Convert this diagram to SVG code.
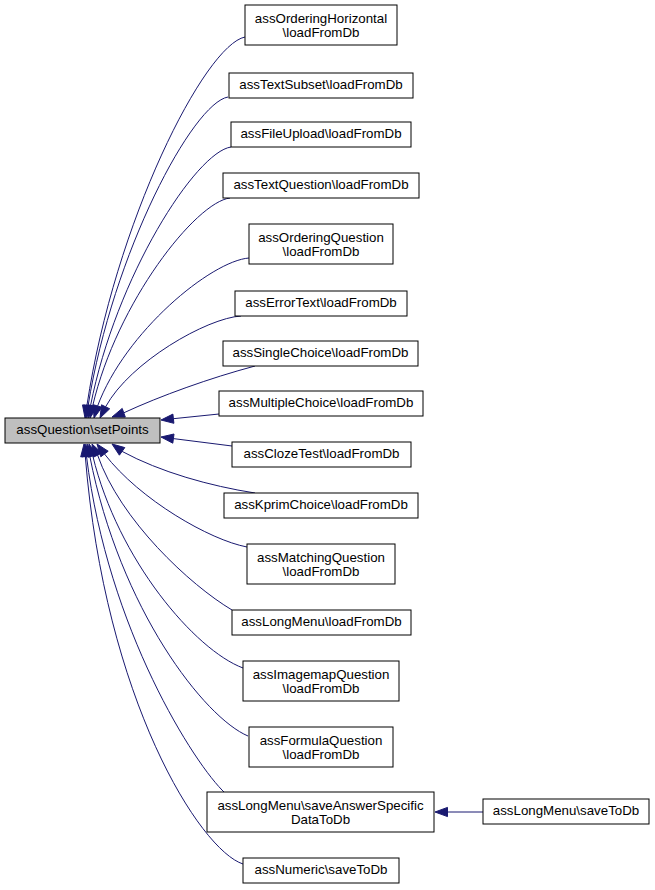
<svg xmlns="http://www.w3.org/2000/svg" width="655" height="890" viewBox="0 0 655 890">
<style>
.n rect{fill:#ffffff;stroke:#000000;stroke-width:1}
.m rect{fill:#bfbfbf;stroke:#000000;stroke-width:1}
text{font-family:"Liberation Sans",Arial,sans-serif;font-size:13.3px;fill:#000000;text-anchor:middle}
.e path{fill:none;stroke:#191970;stroke-width:1}
.e polygon{fill:#191970;stroke:#191970;stroke-width:1}
</style>
<rect x="0" y="0" width="655" height="890" fill="#ffffff"/>
<g class="e" id="connectors">
<path d="M245,37 C205,45 115,221 86.9,405.6"/>
<polygon points="82.5,404.9 85,418 91.3,406.2"/>
<path d="M228,97 C193,103 113,252 88.1,405.7"/>
<polygon points="83.7,404.9 86,418 92.5,406.4"/>
<path d="M231,147 C196,152 116,276 90.5,405.8"/>
<polygon points="86.1,404.9 88,418 94.9,406.7"/>
<path d="M230,198 C196,202 117,302 92.7,405.8"/>
<polygon points="88.3,404.8 90,418 97.1,406.7"/>
<path d="M249,258 C211,261 125,332 97.6,406"/>
<polygon points="93.3,404.7 94,418 101.9,407.3"/>
<path d="M241,316 C207,318 130,362 105.6,406.8"/>
<polygon points="101.5,404.8 100,418 109.7,408.8"/>
<path d="M255,366 C210,378 160,396 123.8,412.8"/>
<polygon points="122.2,408.4 112,417 125.3,417.1"/>
<path d="M219,414 L173.4,418.7"/>
<polygon points="172.9,414.1 161,420 173.9,423.3"/>
<path d="M232,446 L173.4,438.6"/>
<polygon points="174,434 161,437 172.8,443.2"/>
<path d="M255,493 C210,486 160,472 122.1,451.4"/>
<polygon points="124.8,447.6 112,444 119.4,455.2"/>
<path d="M247,547 C210,540 140,500 104.5,454"/>
<polygon points="108.2,451.2 97,444 100.8,456.8"/>
<path d="M232,610 C190,585 120,520 97.6,455.1"/>
<polygon points="101.8,453 92,444 93.4,457.2"/>
<path d="M243,668 C195,650 118,560 92.8,455.9"/>
<polygon points="97.1,454.5 89,444 88.3,457.3"/>
<path d="M248,736 C205,718 120,610 89.8,456.2"/>
<polygon points="94.2,455.2 87,444 85.2,457.2"/>
<path d="M225,793 C195,765 108,630 86.5,456.4"/>
<polygon points="91,455.8 85,444 82,456.9"/>
<path d="M243,864 C200,850 105,700 85.3,456.4"/>
<polygon points="89.8,455.9 84,444 80.7,456.9"/>
<path d="M483,812 L447.5,812"/>
<polygon points="447.5,807.4 435,812 447.5,816.6"/>
</g>
<g class="m" id="node_setPoints"><rect x="5" y="418" width="155" height="25"/><text x="82.5" y="433.5">assQuestion\setPoints</text></g>
<g class="n" id="node_orderingHorizontal"><rect x="245" y="5" width="152" height="40"/><text x="321" y="22.5">assOrderingHorizontal</text><text x="321" y="37">\loadFromDb</text></g>
<g class="n" id="node_textSubset"><rect x="229" y="73" width="184" height="25"/><text x="321" y="88.5">assTextSubset\loadFromDb</text></g>
<g class="n" id="node_fileUpload"><rect x="231" y="122" width="180" height="25"/><text x="321" y="137.5">assFileUpload\loadFromDb</text></g>
<g class="n" id="node_textQuestion"><rect x="223" y="173" width="196" height="25"/><text x="321" y="188.5">assTextQuestion\loadFromDb</text></g>
<g class="n" id="node_orderingQuestion"><rect x="249" y="224" width="144" height="40"/><text x="321" y="241.5">assOrderingQuestion</text><text x="321" y="256">\loadFromDb</text></g>
<g class="n" id="node_errorText"><rect x="235" y="291" width="172" height="25"/><text x="321" y="306.5">assErrorText\loadFromDb</text></g>
<g class="n" id="node_singleChoice"><rect x="223" y="341" width="195" height="25"/><text x="320.5" y="356.5">assSingleChoice\loadFromDb</text></g>
<g class="n" id="node_multipleChoice"><rect x="219" y="391" width="204" height="25"/><text x="321" y="406.5">assMultipleChoice\loadFromDb</text></g>
<g class="n" id="node_clozeTest"><rect x="232" y="442" width="179" height="25"/><text x="321.5" y="457.5">assClozeTest\loadFromDb</text></g>
<g class="n" id="node_kprimChoice"><rect x="224" y="493" width="194" height="25"/><text x="321" y="508.5">assKprimChoice\loadFromDb</text></g>
<g class="n" id="node_matchingQuestion"><rect x="247" y="544" width="148" height="40"/><text x="321" y="561.5">assMatchingQuestion</text><text x="321" y="576">\loadFromDb</text></g>
<g class="n" id="node_longMenuLoad"><rect x="232" y="610" width="179" height="25"/><text x="321.5" y="625.5">assLongMenu\loadFromDb</text></g>
<g class="n" id="node_imagemapQuestion"><rect x="243" y="661" width="156" height="40"/><text x="321" y="678.5">assImagemapQuestion</text><text x="321" y="693">\loadFromDb</text></g>
<g class="n" id="node_formulaQuestion"><rect x="249" y="727" width="144" height="40"/><text x="321" y="744.5">assFormulaQuestion</text><text x="321" y="759">\loadFromDb</text></g>
<g class="n" id="node_longMenuSaveAnswer"><rect x="207" y="792" width="227" height="40"/><text x="320.5" y="809.5">assLongMenu\saveAnswerSpecific</text><text x="320.5" y="824">DataToDb</text></g>
<g class="n" id="node_numericSave"><rect x="243" y="858" width="156" height="25"/><text x="321" y="873.5">assNumeric\saveToDb</text></g>
<g class="n" id="node_longMenuSave"><rect x="483" y="799" width="166" height="25"/><text x="566" y="814.5">assLongMenu\saveToDb</text></g>
</svg>
